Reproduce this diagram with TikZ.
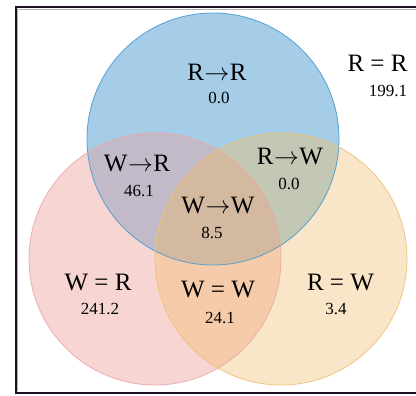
\documentclass[tikz,border=0pt]{standalone}
\usepackage{fontspec}
\setmainfont{Liberation Serif}
\definecolor{cB}{HTML}{A5CDE8}
\definecolor{cP}{HTML}{F6D5D2}
\definecolor{cY}{HTML}{F9E6C8}
\definecolor{cBP}{HTML}{C2B9C9}
\definecolor{cBY}{HTML}{C2C8B4}
\definecolor{cPY}{HTML}{F6CBA9}
\definecolor{cBPY}{HTML}{D2B9A0}
\definecolor{sB}{HTML}{4A9AD0}
\definecolor{sP}{HTML}{EBA8A8}
\definecolor{sY}{HTML}{EEC27A}
\definecolor{frameC}{HTML}{1A1020}
\newcommand{\myarr}{\kern0.5pt$\mathord{\rightarrow}$\kern0.5pt}
\tikzset{
  lbl/.style={font=\fontsize{25}{25}\selectfont, inner sep=0pt},
  num/.style={font=\fontsize{17}{17}\selectfont, inner sep=0pt},
}
\begin{document}
\begin{tikzpicture}[x=1pt,y=-1pt]
\useasboundingbox (0,0) rectangle (416,396);
\fill[white] (0,0) rectangle (416,396);
\def\cb{(213,139) circle (126)}
\def\cp{(155,259) circle (126)}
\def\cy{(281,259) circle (126)}
% single fills
\fill[cB] \cb;
\fill[cP] \cp;
\fill[cY] \cy;
% pairwise
\begin{scope}\clip \cb; \fill[cBP] \cp; \end{scope}
\begin{scope}\clip \cb; \fill[cBY] \cy; \end{scope}
\begin{scope}\clip \cp; \fill[cPY] \cy; \end{scope}
\begin{scope}\clip \cb; \clip \cp; \fill[cBPY] \cy; \end{scope}
% strokes
\draw[sB, line width=0.8pt, opacity=0.9] \cb;
\draw[sP, line width=0.8pt, opacity=0.9] \cp;
\draw[sY, line width=0.8pt, opacity=0.9] \cy;
% frame
\coordinate (ftr) at (416,7.5);
\coordinate (ftl) at (15.5,7.5);
\coordinate (fbl) at (15.5,392.5);
\coordinate (fbr) at (416,392.5);
\draw[frameC, line width=2pt] (ftr) -- (ftl) -- (fbl) -- (fbr);
\draw[gray!60, line width=0.8pt] (416,9.2) -- (17.2,9.2) -- (17.2,391);
% labels
\node[lbl] (rr) at (217,72) {R\myarr R};
\node[num] (rrn) at (219,98) {0.0};
\node[lbl] (req) at (377.5,63) {R = R};
\node[num] (reqn) at (388,91) {199.1};
\node[lbl] (wr) at (137,164) {W\myarr R};
\node[num] (wrn) at (139,191) {46.1};
\node[lbl] (rw) at (290,157) {R\myarr W};
\node[num] (rwn) at (289,184) {0.0};
\node[lbl] (ww) at (218,206) {W\myarr W};
\node[num] (wwn) at (212,233) {8.5};
\node[lbl] (weqr) at (98,282.5) {W = R};
\node[num] (weqrn) at (100,309) {241.2};
\node[lbl] (weqw) at (218,290) {W = W};
\node[num] (weqwn) at (220,318) {24.1};
\node[lbl] (reqw) at (340.5,282.5) {R = W};
\node[num] (reqwn) at (336,309) {3.4};
\end{tikzpicture}
\end{document}
